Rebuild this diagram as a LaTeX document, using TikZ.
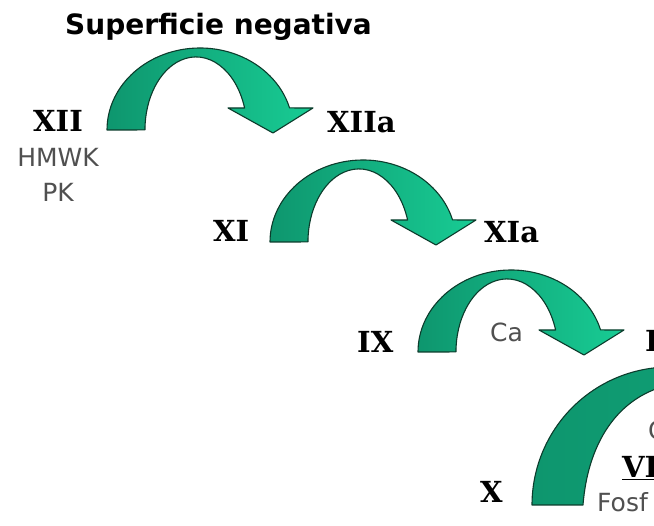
\documentclass[tikz,border=0pt]{standalone}
\usepackage{fontspec}
\setmainfont{DejaVu Sans}
\newfontfamily\romanos{DejaVu Serif}
\usetikzlibrary{positioning}
\definecolor{verdeosc}{RGB}{14,150,110}
\definecolor{verdecla}{RGB}{24,204,148}
\definecolor{borde}{RGB}{12,60,44}
\definecolor{gristexto}{RGB}{80,80,80}
\tikzset{
  factor/.style={inner sep=0pt, anchor=base west,
    font=\romanos\bfseries\fontsize{29}{34}\selectfont},
  cofactor/.style={inner sep=0pt, anchor=base west, text=gristexto,
    font=\fontsize{25}{30}\selectfont},
  pics/flecha/.style={code={
    \shade[left color=verdeosc, right color=verdecla, draw=borde,
      line width=1.1pt, line join=round]
      (0,0) arc[start angle=180, end angle=15.6, x radius=93, y radius=82]
      -- (206,22) -- (166,-3) -- (121,22) -- (137.6,22)
      arc[start angle=17.5, end angle=180, x radius=51, y radius=73]
      -- cycle;
  }},
}

\begin{document}
\begin{tikzpicture}[x=1pt,y=1pt]
\useasboundingbox (0,0) rectangle (654,526);
\clip (0,0) rectangle (654,526);
\fill[white] (0,0) rectangle (654,526);

\node[anchor=base west, inner sep=0pt,
  font=\bfseries\fontsize{28}{34}\selectfont] (titulo) at (65,491) {Superficie negativa};

% flechas curvas
\pic at (107,396) {flecha};
\pic at (270,284) {flecha};
\pic at (418,174) {flecha};

% flecha grande (cortada por el borde)
\shade[left color=verdeosc, right color=verdeosc!85!verdecla, draw=borde,
  line width=1.1pt, line join=round]
  (532,21) arc[start angle=180, end angle=75, radius=138]
  -- (705,140) -- (680,143) .. controls (620,135) and (588,85) .. (583,21) -- cycle;

% factores
\node[factor] (xii) at (33,394) {XII};
\node[cofactor, below=16pt of xii] (hmwk) {HMWK};
\node[cofactor, below=16pt of hmwk] (pk) {PK};
\node[factor] (xiia) at (327,393) {XIIa};

\node[factor] (xi) at (213,284) {XI};
\node[factor] (xia) at (484,283) {XIa};

\node[factor] (ix) at (357,173) {IX};
\node[cofactor] (ca) at (490,184) {Ca};
\node[factor] (ixa) at (645,174) {I};

\node[factor] (x) at (480,23) {X};
\node[cofactor] (c) at (648,86) {C};
\node[factor] (viii) at (622,48) {\underline{VI}};
\node[cofactor] (fosf) at (597,14) {Fosf};

\end{tikzpicture}
\end{document}
